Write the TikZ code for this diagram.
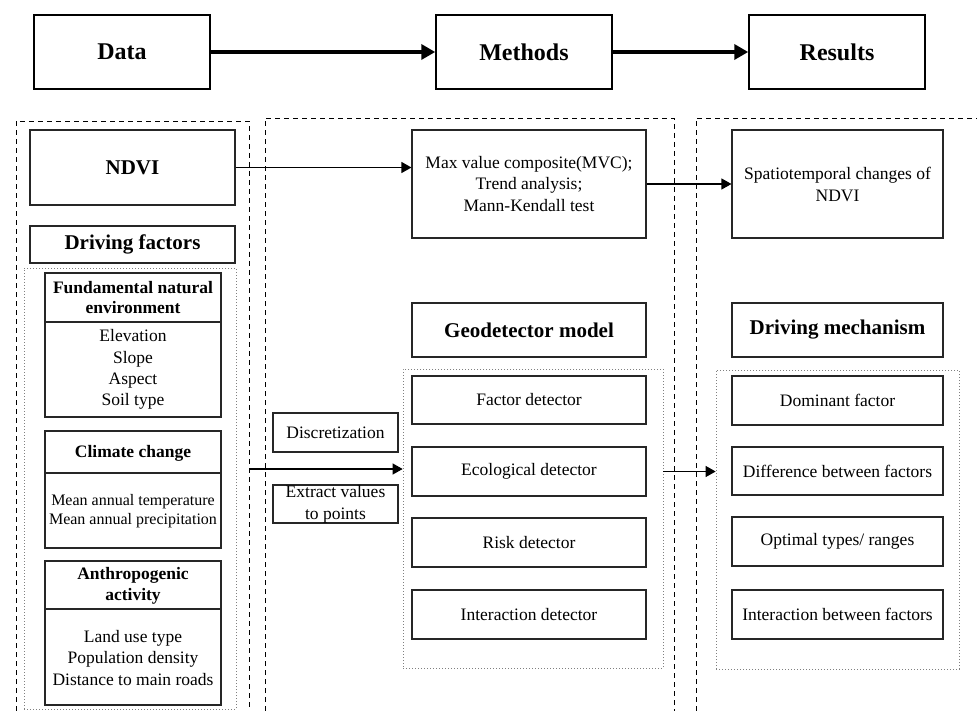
\documentclass[tikz,border=0pt]{standalone}
\usepackage{fontspec}
\setmainfont{Liberation Serif}
\usetikzlibrary{arrows.meta}
\begin{document}
\begin{tikzpicture}[x=1pt,y=-1pt,
  box/.style={draw=black!85, line width=1.1pt, inner sep=0pt, align=center, font=\fontsize{17.5}{21.5}\selectfont},
  topbox/.style={draw=black, line width=1.5pt, minimum width=176pt, minimum height=74pt, inner sep=0pt, font=\fontsize{24}{28}\selectfont\bfseries},
  ttl/.style={font=\fontsize{21}{25}\selectfont\bfseries},
  sub/.style={font=\fontsize{17.5}{20.5}\selectfont\bfseries, align=center, inner sep=0pt},
  txt/.style={font=\fontsize{17.5}{21.3}\selectfont, align=center, inner sep=0pt},
  divider/.style={draw=black!85, line width=1.1pt},
  dashbox/.style={draw=black, line width=0.9pt, dash pattern=on 5pt off 4pt},
  dotbox/.style={draw=black!50, line width=0.7pt, dash pattern=on 1pt off 2pt, inner sep=0pt},
  thinarrow/.style={draw=black, line width=1.1pt, -{Triangle[length=10pt,width=11pt]}},
  thickarrow/.style={draw=black, line width=3.5pt, -{Triangle[length=14pt,width=15pt]}},
]
\useasboundingbox (0,0) rectangle (977,711);

% column outlines
\draw[dashbox] (16,711) -- (16,121) -- (249,121) -- (249,711);
\draw[dashbox] (265,711) -- (265,118) -- (674,118) -- (674,711);
\draw[dashbox] (696,711) -- (696,118) -- (977,118);
\coordinate (lcolR) at (249,469);

% top row
\node[topbox] (data) at (122,52) {Data};
\node[topbox] (methods) at (524,52) {Methods};
\node[topbox] (results) at (837,52) {Results};
\draw[thickarrow] (data) -- (methods);
\draw[thickarrow] (methods) -- (results);

% data column
\node[box, ttl, minimum width=205pt, minimum height=75pt] (ndvi) at (132.5,167.5) {NDVI};
\node[box, ttl, minimum width=205pt, minimum height=37pt] (drv) at (132.5,244.5) {Driving factors};
\node[dotbox, minimum width=212pt, minimum height=441pt] (ldot) at (130,488.5) {};

\node[box, minimum width=176pt, minimum height=144pt] (fund) at (133,345) {};
\coordinate (fdiv) at (0,322);
\draw[divider] (fund.west |- fdiv) -- (fund.east |- fdiv);
\node[sub] (fundT) at (133,297.5) {Fundamental natural\\environment};
\node[txt] (fundI) at (133,369.5) {Elevation\\Slope\\Aspect\\Soil type};

\node[box, minimum width=176pt, minimum height=117pt] (clim) at (133,489.5) {};
\coordinate (cdiv) at (0,473);
\draw[divider] (clim.west |- cdiv) -- (clim.east |- cdiv);
\node[sub] (climT) at (133,453) {Climate change};
\node[txt, font=\fontsize{16}{19}\selectfont] (climI) at (133,511.5) {Mean annual temperature\\Mean annual precipitation};

\node[box, minimum width=176pt, minimum height=144pt] (anth) at (133,633) {};
\coordinate (adiv) at (0,609);
\draw[divider] (anth.west |- adiv) -- (anth.east |- adiv);
\node[sub] (anthT) at (133,586) {Anthropogenic\\activity};
\node[txt] (anthI) at (133,658) {Land use type\\Population density\\Distance to main roads};

% methods column
\node[box, minimum width=234pt, minimum height=108pt] (mvc) at (529,184) {Max value composite(MVC);\\Trend analysis;\\Mann-Kendall test};
\node[box, ttl, minimum width=234pt, minimum height=54pt] (geo) at (529,330) {Geodetector model};
\node[dotbox, minimum width=260pt, minimum height=299pt] (geodot) at (533,518.5) {};
\node[box, minimum width=234pt, minimum height=48pt] (fac) at (529,400) {Factor detector};
\node[box, minimum width=234pt, minimum height=49pt] (eco) at (529,471.5) {Ecological detector};
\node[box, minimum width=234pt, minimum height=49pt] (risk) at (529,542.5) {Risk detector};
\node[box, minimum width=234pt, minimum height=49pt] (inter) at (529,614.5) {Interaction detector};
\node[box, minimum width=125pt, minimum height=39pt] (disc) at (335.5,432.5) {Discretization};
\node[box, minimum width=125pt, minimum height=38pt, font=\fontsize{17.5}{22}\selectfont] (extr) at (335.5,504) {Extract values\\to points};

% results column
\node[box, minimum width=211pt, minimum height=108pt, font=\fontsize{17.5}{22}\selectfont] (spatio) at (837.5,184) {Spatiotemporal changes of\\NDVI};
\node[box, ttl, minimum width=211pt, minimum height=54pt] (mech) at (837.5,330) {Driving mechanism};
\node[dotbox, minimum width=243pt, minimum height=299pt] (resdot) at (837.5,519.5) {};
\node[box, minimum width=211pt, minimum height=49pt] (dom) at (837.5,400.5) {Dominant factor};
\node[box, minimum width=211pt, minimum height=48pt] (diff) at (837.5,471) {Difference between factors};
\node[box, minimum width=211pt, minimum height=49pt] (opt) at (837.5,541.5) {Optimal types/ ranges};
\node[box, minimum width=211pt, minimum height=49pt] (ibf) at (837.5,614.5) {Interaction between factors};

% connectors
\draw[thinarrow] (ndvi.east) -- (mvc.west |- ndvi.east);
\draw[thinarrow] (mvc) -- (spatio);
\draw[thinarrow] (lcolR) -- (geodot.west |- lcolR);
\draw[thinarrow] (geodot.east |- eco) -- (resdot.west |- eco);
\end{tikzpicture}
\end{document}
